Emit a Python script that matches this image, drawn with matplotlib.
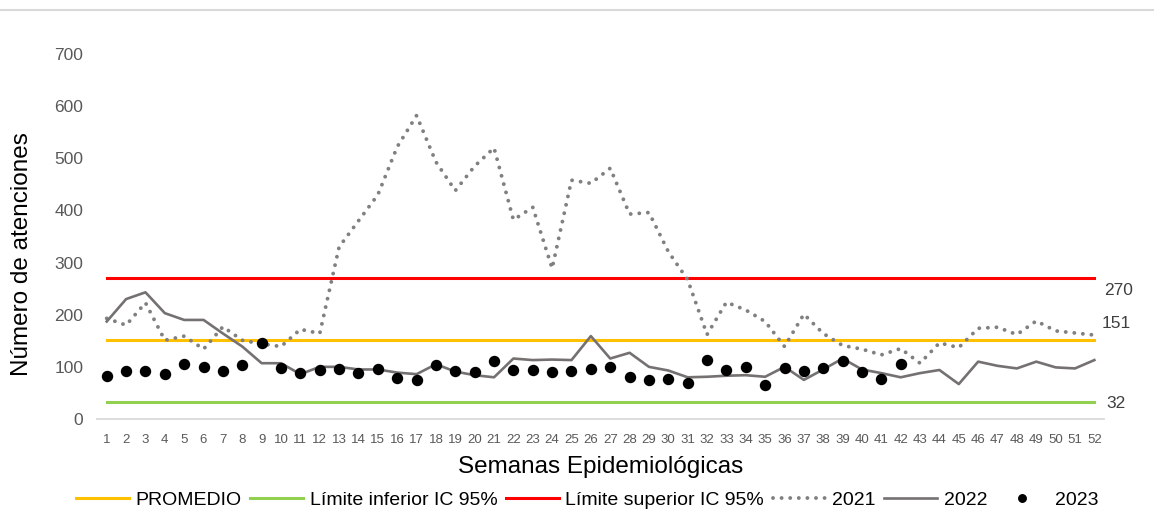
import numpy as np
import matplotlib.pyplot as plt
from matplotlib.lines import Line2D

plt.rcParams["font.family"] = ["Liberation Sans", "DejaVu Sans"]

weeks = np.arange(1, 53)

y2021 = [193, 180, 223, 151, 159, 134, 177, 151, 144, 139, 172, 164, 330,
         380, 430, 522, 582, 493, 438, 485, 520, 382, 406, 289, 458, 452,
         481, 393, 396, 321, 267, 162, 224, 209, 187, 139, 201, 164, 141,
         134, 123, 135, 107, 146, 137, 174, 176, 162, 188, 169, 165, 161]

y2022 = [187, 230, 243, 203, 190, 190, 164, 139, 107, 107, 86, 100, 100,
         95, 95, 89, 86, 105, 91, 84, 80, 116, 113, 114, 113, 159, 116,
         127, 100, 93, 80, 81, 83, 84, 81, 100, 75, 95, 116, 95, 88, 80,
         88, 94, 67, 110, 102, 97, 110, 99, 97, 113]

y2023 = [82, 92, 92, 86, 105, 100, 92, 104, 145, 98, 88, 94, 96, 88, 96,
         79, 75, 104, 92, 90, 111, 94, 94, 90, 92, 96, 100, 81, 75, 77, 69,
         113, 94, 100, 66, 98, 92, 98, 111, 90, 77, 105]

promedio = 151
lim_inf = 32
lim_sup = 270

fig = plt.figure(figsize=(11.54, 5.25), dpi=100)
ax = fig.add_axes([0.0841, 0.2019, 0.8726, 0.6952])

ax.plot(weeks, np.full(len(weeks), promedio), color="#FFC000", lw=2.2, label="PROMEDIO")
ax.plot(weeks, np.full(len(weeks), lim_inf), color="#92D050", lw=2.2, label="Límite inferior IC 95%")
ax.plot(weeks, np.full(len(weeks), lim_sup), color="#FF0000", lw=2.2, label="Límite superior IC 95%")
ax.plot(weeks, y2021, color="#808080", lw=2.8, linestyle=(0, (0.01, 2.2)),
        dash_capstyle="round", label="2021")
ax.plot(weeks, y2022, color="#767171", lw=1.9, label="2022")
ax.plot(weeks[:len(y2023)], y2023, "o", color="black", ms=7.2, label="2023", zorder=5)

# labels for the reference lines at the right end
ax.annotate(str(lim_sup), xy=(52, lim_sup), xytext=(7, -9), textcoords="offset points",
            ha="left", va="center", fontsize=12.5, color="#404040", annotation_clip=False)
ax.annotate(str(promedio), xy=(52, promedio), xytext=(5, 12), textcoords="offset points",
            ha="left", va="center", fontsize=12.5, color="#404040", annotation_clip=False)
ax.annotate(str(lim_inf), xy=(52, lim_inf), xytext=(9, -1), textcoords="offset points",
            ha="left", va="center", fontsize=12.5, color="#404040", annotation_clip=False)

ax.set_xlim(0.5, 52.5)
ax.set_ylim(0, 700)
ax.set_xticks(weeks)
ax.set_yticks(range(0, 701, 100))
ax.tick_params(axis="x", length=0, colors="#595959", labelsize=9.5, pad=11)
ax.tick_params(axis="y", length=0, colors="#595959", labelsize=12.5, pad=10)

for s in ["top", "right", "left"]:
    ax.spines[s].set_visible(False)
ax.spines["bottom"].set_color("#d9d9d9")
ax.spines["bottom"].set_linewidth(1.3)

ax.set_ylabel("Número de atenciones", fontsize=17.5, color="black")
ax.yaxis.set_label_coords(-0.064, 0.452)
ax.set_xlabel("Semanas Epidemiológicas", fontsize=17.5, color="black", labelpad=7)

fig.legend(*ax.get_legend_handles_labels(), loc="center", bbox_to_anchor=(0.509, 0.048),
           ncol=6, frameon=False, fontsize=14, handlelength=2.7, markerscale=0.75,
           columnspacing=0.45, handletextpad=0.35)

fig.add_artist(Line2D([0, 1], [0.981, 0.981], color="#d9d9d9", lw=1.5,
                      transform=fig.transFigure))

fig.savefig("out.png", dpi=100)
